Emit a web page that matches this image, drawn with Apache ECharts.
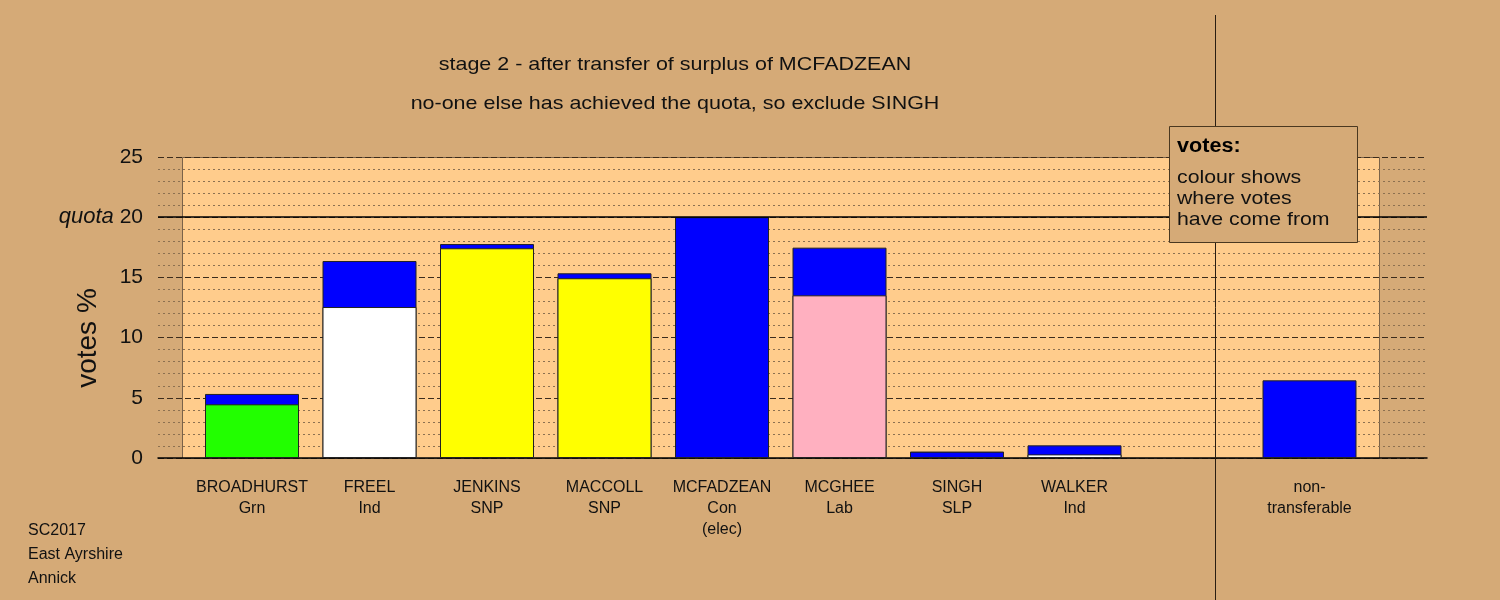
<!DOCTYPE html>
<html>
<head>
<meta charset="utf-8">
<script src="https://cdn.jsdelivr.net/npm/echarts@6/dist/echarts.min.js"></script>
<style>
html,body{margin:0;padding:0;background:#d5aa77;}
#c{width:1500px;height:600px;}
</style>
</head>
<body>
<div id="c"></div>
<script>
// ---- data ----
const candidates = ['BROADHURST', 'FREEL', 'JENKINS', 'MACCOLL', 'MCFADZEAN', 'MCGHEE', 'SINGH', 'WALKER', '', 'non-'];
const parties = ['Grn', 'Ind', 'SNP', 'SNP', 'Con\n(elec)', 'Lab', 'SLP', 'Ind', '', 'transferable'];
const ownVotes = [4.46, 12.54, 17.42, 14.93, 20.0, 13.51, 0.52, 0.30, null, null];
const transferVotes = [0.86, 3.82, 0.35, 0.41, null, 3.96, null, 0.75, null, 6.45];
const ownColors = ['#22ff00', '#ffffff', '#ffff00', '#ffff00', '#0000ff', '#ffb0c0', '#0000ff', '#ffffff', null, null];
const transferColor = '#0000ff';
const yTicks = [0, 5, 10, 15, 20, 25];
const quota = 20;
const titleLines = ['stage 2 - after transfer of surplus of MCFADZEAN', 'no-one else has achieved the quota, so exclude SINGH'];
const noteLines = ['SC2017', 'East Ayrshire', 'Annick'];
const legendTitle = 'votes:';
const legendLines = ['colour shows', 'where votes', 'have come from'];
const yName = 'votes %';

const FONT = '"Liberation Sans", Arial, Helvetica, sans-serif';
const chart = echarts.init(document.getElementById('c'), null, {renderer: 'canvas'});

// total height of each bar (own + transferred); own part is drawn over it
const totalData = [];
const ownData = [];
candidates.forEach((c, i) => {
  const own = ownVotes[i] || 0;
  const tr = transferVotes[i] || 0;
  if (ownVotes[i] != null || transferVotes[i] != null) totalData.push({value: [i, own + tr]});
  if (ownVotes[i] != null) ownData.push({value: [i, ownVotes[i]], itemStyle: {color: ownColors[i]}});
});

const option = {
  backgroundColor: '#d5aa77',
  animation: false,
  textStyle: {fontFamily: FONT},
  grid: {left: 158, right: 73, top: 157, bottom: 142, containLabel: false},
  xAxis: {
    type: 'value', min: -0.8, max: 10,
    axisLine: {show: true, onZero: true, lineStyle: {color: '#000', width: 1.5}},
    axisTick: {show: false},
    splitLine: {show: false},
    axisLabel: {
      customValues: candidates.map((c, i) => i),
      formatter: v => {
        const i = Math.round(v);
        return candidates[i] ? candidates[i] + '\n' + parties[i] : '';
      },
      fontFamily: FONT, fontSize: 16, lineHeight: 21, margin: 19, color: '#111'
    }
  },
  yAxis: {
    type: 'value', min: 0, max: 25, interval: 5,
    axisLine: {show: false},
    axisTick: {show: false},
    axisLabel: {
      customValues: yTicks,
      formatter: v => v === quota ? '{q|quota} ' + v : '' + v,
      fontFamily: FONT, fontSize: 21, color: '#111', margin: 15,
      rich: {q: {fontStyle: 'italic', fontSize: 22, fontFamily: FONT, color: '#111'}}
    },
    splitLine: {show: true, lineStyle: {color: '#3c2c1c', width: 1, type: [6, 3]}},
    minorTick: {show: false, splitNumber: 5},
    minorSplitLine: {show: true, lineStyle: {color: '#8c7050', width: 1, type: [2, 3]}}
  },
  series: [
    {
      name: 'total', type: 'bar', barWidth: 94, barGap: '-100%',
      itemStyle: {color: transferColor, borderColor: '#222', borderWidth: 1},
      data: totalData,
      markLine: {
        silent: true, symbol: 'none', label: {show: false},
        lineStyle: {color: '#000', width: 1.5, type: 'solid'},
        data: [{yAxis: quota}]
      }
    },
    {
      name: 'own', type: 'bar', barWidth: 94, barGap: '-100%',
      itemStyle: {borderColor: '#222', borderWidth: 1},
      data: ownData
    }
  ]
};
chart.setOption(option);

function px(x, y) { return chart.convertToPixel({gridIndex: 0}, [x, y]); }
const p0 = px(-0.595, 25), p1 = px(9.595, 0);
const divX = px(8.2, 0)[0];
const midY = px(0, 10.0)[1];

const graphics = [
  {type: 'rect', z: -10, silent: true,
   shape: {x: Math.round(p0[0]) + 0.5, y: Math.round(p0[1]) + 0.5, width: Math.round(p1[0] - p0[0]), height: Math.round(p1[1] - p0[1])},
   style: {fill: '#ffcc8c', stroke: '#7a6248', lineWidth: 1}},
  {type: 'line', z: 5, silent: true,
   shape: {x1: Math.round(divX) + 0.5, y1: 15, x2: Math.round(divX) + 0.5, y2: 600},
   style: {stroke: '#2a1e12', lineWidth: 1}},
  {type: 'rect', z: 20, silent: true,
   shape: {x: 1169.5, y: 126.5, width: 188, height: 116},
   style: {fill: '#d5aa77', stroke: '#4a3820', lineWidth: 1}},
  {type: 'text', z: 21, silent: true, x: 1177, y: 146, scaleX: 1.08,
   style: {text: legendTitle, font: 'bold 20px ' + FONT, fill: '#000', verticalAlign: 'middle'}},
  {type: 'text', z: 21, silent: true, x: 88, y: 338, rotation: Math.PI / 2,
   style: {text: yName, font: '28px ' + FONT, fill: '#111', align: 'center', verticalAlign: 'middle'}},
];
legendLines.forEach((t, i) => {
  graphics.push({type: 'text', z: 21, silent: true, x: 1177, y: 178 + i * 21, scaleX: 1.12,
    style: {text: t, font: '19px ' + FONT, fill: '#111', verticalAlign: 'middle'}});
});
titleLines.forEach((t, i) => {
  graphics.push({type: 'text', z: 21, silent: true, x: 675, y: 65 + i * 39, scaleX: 1.13,
    style: {text: t, font: '19px ' + FONT, fill: '#111', align: 'center', verticalAlign: 'middle'}});
});
noteLines.forEach((t, i) => {
  graphics.push({type: 'text', z: 21, silent: true, x: 28, y: 531 + i * 24,
    style: {text: t, font: '16px ' + FONT, fill: '#111', verticalAlign: 'middle'}});
});
chart.setOption({graphic: graphics});
</script>
</body>
</html>
